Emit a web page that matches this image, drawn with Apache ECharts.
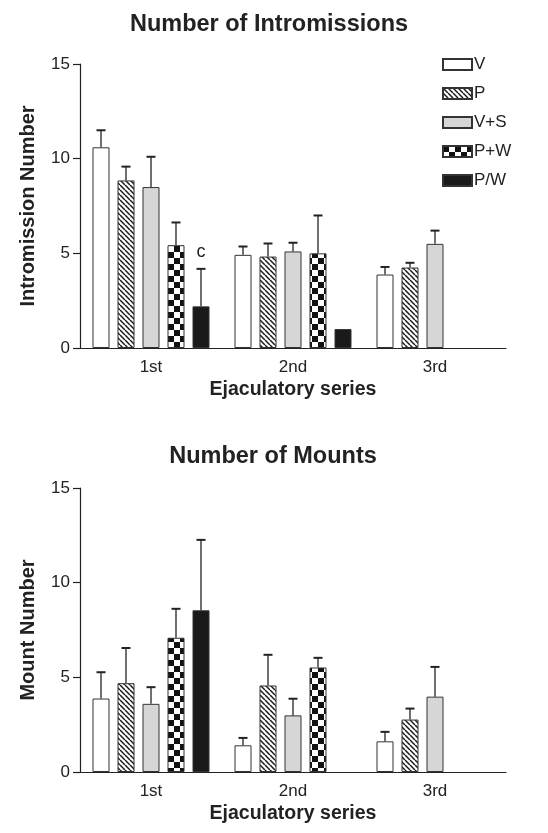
<!DOCTYPE html>
<html><head><meta charset="utf-8">
<script src="https://cdn.jsdelivr.net/npm/echarts@6/dist/echarts.min.js"></script>
<style>html,body{margin:0;padding:0;background:#fff}#c{width:548px;height:833px}</style>
</head><body><div id="c"></div>
<script>
// ---- data ----
const categories = ['1st', '2nd', '3rd'];
const seriesNames = ['V', 'P', 'V+S', 'P+W', 'P/W'];
const yTicks = [0, 5, 10, 15];

// Number of Intromissions (mean, upper error)
const introV    = [10.6, 4.92, 3.88];
const introVErr = [11.5, 5.36, 4.28];
const introP    = [8.85, 4.83, 4.25];
const introPErr = [9.58, 5.52, 4.5];
const introVS    = [8.5, 5.1, 5.5];
const introVSErr = [10.1, 5.56, 6.2];
const introPW    = [5.43, 5.0, null];
const introPWErr = [6.63, 7.0, null];
const introPslW    = [2.2, 1.0, null];
const introPslWErr = [4.18, null, null];
const introNotes = { 'P/W': ['c', '', ''] };

// Number of Mounts (mean, upper error)
const mountV    = [3.88, 1.41, 1.62];
const mountVErr = [5.27, 1.8, 2.12];
const mountP    = [4.69, 4.57, 2.77];
const mountPErr = [6.55, 6.19, 3.35];
const mountVS    = [3.6, 2.99, 3.98];
const mountVSErr = [4.48, 3.87, 5.55];
const mountPW    = [7.09, 5.52, null];
const mountPWErr = [8.62, 6.03, null];
const mountPslW    = [8.54, null, null];
const mountPslWErr = [12.26, null, null];

// ---- patterns ----
function hatch() {
  const s = 5;
  const c = document.createElement('canvas'); c.width = s; c.height = s;
  const g = c.getContext('2d');
  g.fillStyle = '#fff'; g.fillRect(0, 0, s, s);
  g.strokeStyle = '#1a1a1a'; g.lineWidth = 1.5;
  [-s, 0, s].forEach(k => { g.beginPath(); g.moveTo(k, 0); g.lineTo(k + s, s); g.stroke(); });
  return { image: c, repeat: 'repeat' };
}
function checker() {
  const c = document.createElement('canvas'); c.width = 12; c.height = 12;
  const g = c.getContext('2d');
  g.fillStyle = '#fff'; g.fillRect(0, 0, 12, 12);
  g.fillStyle = '#111'; g.fillRect(0, 0, 6, 6); g.fillRect(6, 6, 6, 6);
  return { image: c, repeat: 'repeat' };
}
const fills = ['#ffffff', hatch(), '#d6d6d6', checker(), '#1a1a1a'];

const FONT = "'Liberation Sans', Arial, sans-serif";
const BAR_W = 17, BAR_GAP_PX = 8;

function makeSeries(gridIdx, vals, errs, notes) {
  const out = [];
  const n = vals.length;
  vals.forEach((v, i) => {
    out.push({
      type: 'bar', name: seriesNames[i], xAxisIndex: gridIdx, yAxisIndex: gridIdx,
      data: v.map(x => x == null ? '-' : x),
      barWidth: BAR_W, barGap: (BAR_GAP_PX / BAR_W * 100) + '%',
      itemStyle: { color: fills[i], borderColor: '#333', borderWidth: 1 },
      emphasis: { disabled: true }, animation: false
    });
  });
  vals.forEach((v, i) => {
    const offset = (i - (n - 1) / 2) * (BAR_W + BAR_GAP_PX);
    const note = notes && notes[seriesNames[i]];
    out.push({
      type: 'custom', xAxisIndex: gridIdx, yAxisIndex: gridIdx, z: 3, animation: false, silent: true,
      data: v.map((x, k) => [k, x == null ? 0 : x, errs[i][k] == null ? (x == null ? 0 : x) : errs[i][k], x == null ? 0 : 1]),
      renderItem: function (params, api) {
        if (!api.value(3)) return null;
        const base = api.coord([api.value(0), api.value(1)]);
        const top = api.coord([api.value(0), api.value(2)]);
        const x = base[0] + offset;
        const children = [];
        if (top[1] < base[1] - 0.5) {
          children.push({ type: 'line', shape: { x1: x, y1: base[1], x2: x, y2: top[1] }, style: { stroke: '#222', lineWidth: 1.3 } });
          children.push({ type: 'line', shape: { x1: x - 4.5, y1: top[1], x2: x + 4.5, y2: top[1] }, style: { stroke: '#222', lineWidth: 2 } });
        }
        const t = note ? note[params.dataIndex] : '';
        if (t) {
          children.push({ type: 'text', style: { text: t, x: x, y: top[1] - 8, align: 'center', verticalAlign: 'bottom', font: '18px ' + FONT, fill: '#222' } });
        }
        return { type: 'group', children: children };
      }
    });
  });
  return out;
}

const grids = [
  { left: 80, top: 64, width: 426, height: 284 },
  { left: 80, top: 488, width: 426, height: 284 }
];
const axisLine = { lineStyle: { color: '#222', width: 1.2 } };
function xAxis(i) {
  return {
    type: 'category', gridIndex: i, data: categories,
    axisLine: axisLine, axisTick: { show: false },
    axisLabel: { color: '#222', fontSize: 17, fontFamily: FONT, margin: 11 },
    name: 'Ejaculatory series', nameLocation: 'middle', nameGap: 32,
    nameTextStyle: { color: '#222', fontSize: 19.5, fontWeight: 'bold', fontFamily: FONT }
  };
}
function yAxis(i, name) {
  return {
    type: 'value', gridIndex: i, min: yTicks[0], max: yTicks[yTicks.length - 1], interval: yTicks[1] - yTicks[0],
    axisLine: Object.assign({ show: true }, axisLine), axisTick: { show: true, length: 7, lineStyle: { color: '#222', width: 1.2 } },
    splitLine: { show: false },
    axisLabel: { color: '#222', fontSize: 17, fontFamily: FONT, margin: 10 },
    name: name, nameLocation: 'middle', nameRotate: 90, nameGap: 42,
    nameTextStyle: { color: '#222', fontSize: 20, fontWeight: 'bold', fontFamily: FONT }
  };
}

const chart = echarts.init(document.getElementById('c'), null, { renderer: 'canvas' });
chart.setOption({
  backgroundColor: '#fff',
  animation: false,
  title: [
    { text: 'Number of Intromissions', left: 264, top: 8, textAlign: 'center', textStyle: { fontSize: 23.5, fontWeight: 'bold', color: '#222', fontFamily: FONT } },
    { text: 'Number of Mounts', left: 268, top: 440, textAlign: 'center', textStyle: { fontSize: 23.5, fontWeight: 'bold', color: '#222', fontFamily: FONT } }
  ],
  legend: {
    data: seriesNames, orient: 'vertical', left: 437, top: 51,
    itemWidth: 29, itemHeight: 11, itemGap: 12, icon: 'rect',
    textStyle: { fontSize: 17, color: '#222', fontFamily: FONT, padding: [0, 0, 0, -3] },
    selectedMode: false
  },
  grid: grids,
  xAxis: [xAxis(0), xAxis(1)],
  yAxis: [yAxis(0, 'Intromission Number'), yAxis(1, 'Mount Number')],
  series: [].concat(
    makeSeries(0, [introV, introP, introVS, introPW, introPslW], [introVErr, introPErr, introVSErr, introPWErr, introPslWErr], introNotes),
    makeSeries(1, [mountV, mountP, mountVS, mountPW, mountPslW], [mountVErr, mountPErr, mountVSErr, mountPWErr, mountPslWErr], null)
  )
});
</script>
</body></html>
